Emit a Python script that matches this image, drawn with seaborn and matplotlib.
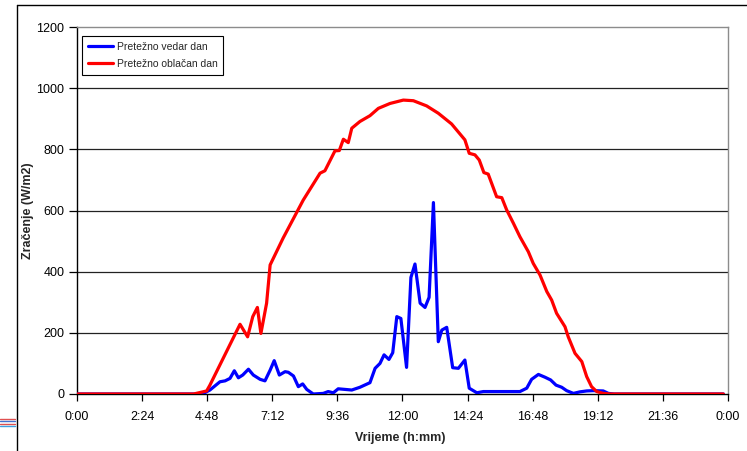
import matplotlib
matplotlib.use("Agg")
import matplotlib.pyplot as plt
from matplotlib.lines import Line2D
import seaborn as sns
import pandas as pd

# ---- data (hours of day, W/m2) ----
vedar_h = [0.0, 4.4, 4.66, 4.90, 5.27, 5.46, 5.64, 5.80, 5.95, 6.11, 6.32, 6.50, 6.75, 6.93,
           7.12, 7.27, 7.46, 7.67, 7.79, 7.98, 8.16, 8.32, 8.47, 8.71, 9.08, 9.26, 9.45, 9.63,
           9.88, 10.13, 10.43, 10.80, 10.99, 11.17, 11.32, 11.50, 11.64, 11.79, 11.94, 12.15,
           12.31, 12.46, 12.65, 12.83, 12.98, 13.14, 13.32, 13.45, 13.63, 13.85, 14.06, 14.30,
           14.46, 14.74, 14.98, 16.33, 16.58, 16.76, 17.01, 17.25, 17.46, 17.66, 17.87, 18.05,
           18.30, 18.54, 18.79, 19.03, 19.40, 19.59, 19.80, 23.83]
vedar_w = [0, 0, 2, 13, 40, 43, 51, 76, 53, 62, 81, 62, 48, 43,
           78, 109, 62, 73, 71, 59, 24, 33, 15, 0, 2, 8, 4, 17,
           15, 13, 22, 37, 84, 100, 128, 113, 135, 253, 247, 87,
           381, 425, 297, 283, 316, 626, 171, 209, 218, 86, 84, 111,
           19, 4, 8, 8, 19, 48, 64, 55, 46, 29, 22, 11,
           2, 7, 10, 11, 10, 2, 0, 0]

oblacan_h = [0.0, 4.3, 4.78, 4.90, 6.01, 6.29, 6.48, 6.65, 6.78, 6.99, 7.12, 7.60, 8.34, 8.96,
             9.14, 9.51, 9.67, 9.82, 10.00, 10.13, 10.43, 10.80, 11.11, 11.54, 12.03, 12.40,
             12.89, 13.32, 13.81, 14.30, 14.46, 14.67, 14.83, 15.00, 15.16, 15.47, 15.66, 15.84,
             16.09, 16.33, 16.64, 16.82, 17.07, 17.32, 17.50, 17.68, 17.99, 18.11, 18.36, 18.61,
             18.79, 18.97, 19.16, 19.40, 19.65, 23.83]
oblacan_w = [0, 0, 10, 29, 228, 187, 253, 283, 198, 297, 422, 510, 634, 722,
             730, 795, 796, 833, 822, 869, 891, 910, 934, 950, 961, 959,
             942, 918, 883, 831, 787, 782, 765, 724, 719, 645, 642, 602,
             558, 514, 465, 427, 389, 335, 307, 264, 220, 187, 133, 106,
             57, 24, 8, 2, 0, 0]

series_names = ["Pretežno vedar dan", "Pretežno oblačan dan"]
x_tick_hours = [0, 2.4, 4.8, 7.2, 9.6, 12.0, 14.4, 16.8, 19.2, 21.6, 24.0]
x_tick_labels = ["0:00", "2:24", "4:48", "7:12", "9:36", "12:00", "14:24", "16:48", "19:12", "21:36", "0:00"]
y_ticks = [0, 200, 400, 600, 800, 1000, 1200]

df = pd.concat([
    pd.DataFrame({"h": vedar_h, "w": vedar_w, "serija": series_names[0]}),
    pd.DataFrame({"h": oblacan_h, "w": oblacan_w, "serija": series_names[1]}),
])

sns.set_style("white")
plt.rcParams["font.family"] = ["Liberation Sans", "DejaVu Sans"]

fig = plt.figure(figsize=(7.47, 4.51), dpi=100)
ax = fig.add_axes([77/747, 57/451, 651/747, 367/451])

sns.lineplot(data=df, x="h", y="w", hue="serija", hue_order=series_names,
             palette=["#0000ff", "#ff0000"], linewidth=2.3, ax=ax, sort=False,
             estimator=None, zorder=3)

ax.set_xlim(0, 24)
ax.set_ylim(0, 1200)
ax.set_xticks(x_tick_hours)
ax.set_xticklabels(x_tick_labels)
ax.set_yticks(y_ticks)
ax.tick_params(axis="both", labelsize=9, color="black", direction="out",
               bottom=True, left=True, labelcolor="black")
ax.tick_params(axis="x", length=5, width=0.9, pad=7)
ax.tick_params(axis="y", length=6, width=0.9, pad=3)
for y in y_ticks[1:-1]:
    ax.axhline(y, color="#222222", lw=0.9, zorder=1)

ax.spines["left"].set_color("black")
ax.spines["bottom"].set_color("black")
ax.spines["top"].set_color("#8c8c8c")
ax.spines["right"].set_color("#8c8c8c")
for s in ax.spines.values():
    s.set_linewidth(1.0)

ax.set_xlabel("Vrijeme (h:mm)", fontsize=9, fontweight="bold")
ax.set_ylabel("Zračenje (W/m2)", fontsize=9, fontweight="bold")
ax.yaxis.set_label_coords((28 - 77) / 651, 0.5)
ax.xaxis.set_label_coords(0.497, (394 - 438) / 367)
ax.xaxis.label.set_va("center")
ax.yaxis.label.set_va("center")

leg = ax.legend(loc="upper left", bbox_to_anchor=((82 - 77) / 651, (394 - 36) / 367),
                borderaxespad=0, fontsize=7.5,
                frameon=True, fancybox=False, framealpha=1, edgecolor="black",
                handlelength=2.4, handletextpad=0.4, borderpad=0.55, labelspacing=0.7)
leg.get_frame().set_linewidth(0.8)
for line in leg.get_lines():
    line.set_linewidth(2.3)

# outer chart frame (top and left)
fig.add_artist(Line2D([16.5/747, 1.0], [1 - 5/451, 1 - 5/451], color="black", lw=1.0))
fig.add_artist(Line2D([16.5/747, 16.5/747], [0, 1 - 5/451], color="black", lw=1.0))
# small logo fragment at bottom left
for yy, cc in [(418.5, "#e05050"), (421.0, "#4070d0"), (423.5, "#e05050"), (426.0, "#40a0e0")]:
    fig.add_artist(Line2D([0, 15/747], [1 - yy/451, 1 - yy/451], color=cc, lw=1.0))

fig.savefig("out.png", dpi=100)
